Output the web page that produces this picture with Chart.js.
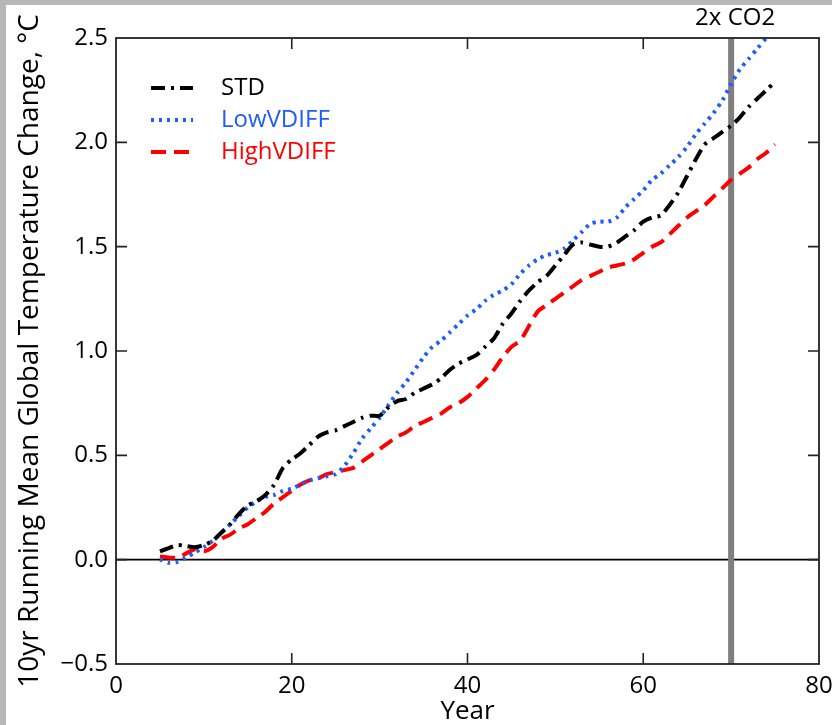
<!DOCTYPE html>
<html><head><meta charset="utf-8">
<script src="https://cdn.jsdelivr.net/npm/chart.js@4"></script>
<style>
html,body{margin:0;padding:0;background:#b8b8b8;width:832px;height:725px;overflow:hidden}
#wrap{position:absolute;left:6px;top:5px;width:826px;height:720px;background:#fff}
canvas{display:block}
</style></head><body><div id="wrap"><canvas id="c" width="826" height="720"></canvas></div>
<script>
const years = [5,6,7,8,9,10,11,12,13,14,15,16,17,18,19,20,21,22,23,24,25,26,27,28,29,30,31,32,33,34,35,36,37,38,39,40,41,42,43,44,45,46,47,48,49,50,51,52,53,54,55,56,57,58,59,60,61,62,63,64,65,66,67,68,69,70,71,72,73,74,75];
const stdValues = [0.04,0.055,0.07,0.065,0.06,0.07,0.09,0.13,0.17,0.22,0.26,0.28,0.31,0.36,0.44,0.48,0.51,0.55,0.59,0.61,0.62,0.64,0.66,0.68,0.69,0.69,0.73,0.76,0.77,0.80,0.82,0.84,0.87,0.91,0.94,0.96,0.98,1.02,1.06,1.13,1.18,1.24,1.29,1.33,1.36,1.41,1.46,1.51,1.52,1.51,1.50,1.50,1.52,1.55,1.58,1.62,1.64,1.65,1.70,1.76,1.84,1.92,1.99,2.02,2.05,2.08,2.12,2.17,2.21,2.25,2.29];
const lowValues = [0.00,-0.015,-0.01,0.01,0.035,0.06,0.09,0.13,0.17,0.21,0.25,0.28,0.30,0.31,0.33,0.34,0.36,0.38,0.39,0.40,0.41,0.45,0.51,0.58,0.63,0.68,0.74,0.80,0.85,0.91,0.97,1.02,1.05,1.09,1.13,1.17,1.20,1.24,1.27,1.29,1.32,1.37,1.41,1.44,1.46,1.47,1.49,1.53,1.57,1.61,1.62,1.62,1.64,1.69,1.73,1.77,1.82,1.85,1.89,1.93,1.98,2.04,2.09,2.14,2.20,2.28,2.35,2.40,2.45,2.50,2.55];
const highValues = [0.015,0.01,0.01,0.03,0.05,0.04,0.06,0.10,0.12,0.15,0.17,0.20,0.23,0.27,0.30,0.33,0.36,0.38,0.39,0.41,0.42,0.43,0.44,0.47,0.50,0.53,0.56,0.59,0.61,0.64,0.66,0.68,0.70,0.73,0.75,0.78,0.82,0.86,0.91,0.97,1.02,1.05,1.12,1.19,1.22,1.25,1.28,1.31,1.34,1.36,1.38,1.40,1.41,1.42,1.44,1.47,1.50,1.52,1.56,1.60,1.64,1.67,1.70,1.74,1.78,1.82,1.85,1.88,1.92,1.95,1.99];
const seriesNames = ['STD','LowVDIFF','HighVDIFF'];
const xTicks = [0,20,40,60,80];
const yTicks = [-0.5,0,0.5,1,1.5,2,2.5];
const markerYear = 70;
const markerLabel = '2x CO2';
const xTitle = 'Year';
const yTitle = '10yr Running Mean Global Temperature Change, \u00B0C';

const FONT = "'Open Sans', 'DejaVu Sans', sans-serif";
const toXY = vals => years.map((yr, i) => ({x: yr, y: vals[i]}));

const decorPlugin = {
  id: 'decor',
  beforeDatasetsDraw(chart) {
    const {ctx, chartArea: a, scales: {x, y}} = chart;
    ctx.save();
    const y0 = y.getPixelForValue(0);
    ctx.strokeStyle = '#000'; ctx.lineWidth = 1.6;
    ctx.beginPath(); ctx.moveTo(a.left, y0); ctx.lineTo(a.right, y0); ctx.stroke();
    const xm = x.getPixelForValue(markerYear);
    ctx.strokeStyle = '#7f7f7f'; ctx.lineWidth = 6;
    ctx.beginPath(); ctx.moveTo(xm, a.top); ctx.lineTo(xm, a.bottom); ctx.stroke();
    ctx.restore();
  },
  afterDraw(chart) {
    const {ctx, chartArea: a, scales: {x, y}} = chart;
    ctx.save();
    ctx.strokeStyle = '#222'; ctx.lineWidth = 1.8;
    ctx.strokeRect(a.left, a.top, a.right - a.left, a.bottom - a.top);
    ctx.lineWidth = 1.6;
    const tl = 11;
    x.ticks.forEach(t => {
      if (t.value <= x.min || t.value >= x.max) return;
      const px = x.getPixelForValue(t.value);
      ctx.beginPath();
      ctx.moveTo(px, a.bottom); ctx.lineTo(px, a.bottom - tl);
      ctx.moveTo(px, a.top); ctx.lineTo(px, a.top + tl);
      ctx.stroke();
    });
    y.ticks.forEach(t => {
      if (t.value <= y.min || t.value >= y.max) return;
      const py = y.getPixelForValue(t.value);
      ctx.beginPath();
      ctx.moveTo(a.left, py); ctx.lineTo(a.left + tl, py);
      ctx.moveTo(a.right, py); ctx.lineTo(a.right - tl, py);
      ctx.stroke();
    });
    const xm = x.getPixelForValue(markerYear);
    ctx.fillStyle = '#000';
    ctx.font = "24px " + FONT;
    ctx.textAlign = 'center'; ctx.textBaseline = 'middle';
    ctx.fillText(markerLabel, xm + 4, a.top - 20);
    chart.data.datasets.forEach((ds, i) => {
      const cy = a.top + 50 + i * 32;
      const x0 = a.left + 35;
      ctx.strokeStyle = ds.borderColor;
      ctx.lineWidth = ds.borderWidth;
      ctx.setLineDash(ds.borderDash || []);
      ctx.beginPath(); ctx.moveTo(x0, cy); ctx.lineTo(x0 + 42, cy); ctx.stroke();
      ctx.setLineDash([]);
      ctx.fillStyle = ds.borderColor;
      ctx.font = "24px " + FONT;
      ctx.textAlign = 'left'; ctx.textBaseline = 'middle';
      ctx.fillText(ds.label, a.left + 105, cy);
    });
    ctx.restore();
  }
};

new Chart(document.getElementById('c'), {
  type: 'line',
  data: {
    datasets: [
      {label: seriesNames[0], data: toXY(stdValues), borderColor: '#000000', borderWidth: 4, borderDash: [14, 6, 3, 6], pointRadius: 0, tension: 0.25, fill: false},
      {label: seriesNames[1], data: toXY(lowValues), borderColor: '#1f5cff', borderWidth: 4, borderDash: [3, 5], pointRadius: 0, tension: 0.25, fill: false},
      {label: seriesNames[2], data: toXY(highValues), borderColor: '#ff0000', borderWidth: 4, borderDash: [15, 8], pointRadius: 0, tension: 0.25, fill: false}
    ]
  },
  options: {
    responsive: false,
    animation: false,
    devicePixelRatio: 1,
    layout: {padding: {top: 33, right: 13, left: 0, bottom: 0}},
    plugins: {legend: {display: false}, tooltip: {enabled: false}},
    scales: {
      x: {
        type: 'linear', min: 0, max: 80,
        afterBuildTicks: s => { s.ticks = xTicks.map(v => ({value: v})); },
        afterFit: s => { s.height = 61; s.paddingLeft = 0; s.paddingRight = 0; },
        grid: {display: false, drawTicks: false},
        border: {display: false},
        ticks: {color: '#000', font: {family: FONT, size: 24}, padding: 8, maxRotation: 0, callback: v => String(v)},
        title: {display: true, text: xTitle, color: '#000', font: {family: FONT, size: 26, lineHeight: 1}, padding: 0}
      },
      y: {
        type: 'linear', min: -0.5, max: 2.5,
        afterBuildTicks: s => { s.ticks = yTicks.map(v => ({value: v})); },
        afterFit: s => { s.width = 110; s.paddingTop = 0; s.paddingBottom = 0; },
        grid: {display: false, drawTicks: false},
        border: {display: false},
        ticks: {color: '#000', font: {family: FONT, size: 24}, padding: 8, callback: v => (v < 0 ? '\u2212' : '') + Math.abs(v).toFixed(1)},
        title: {display: true, text: yTitle, color: '#000', font: {family: FONT, size: 28, lineHeight: 1.1}, padding: {top: 9, bottom: 0}}
      }
    }
  },
  plugins: [decorPlugin]
});
</script></body></html>
